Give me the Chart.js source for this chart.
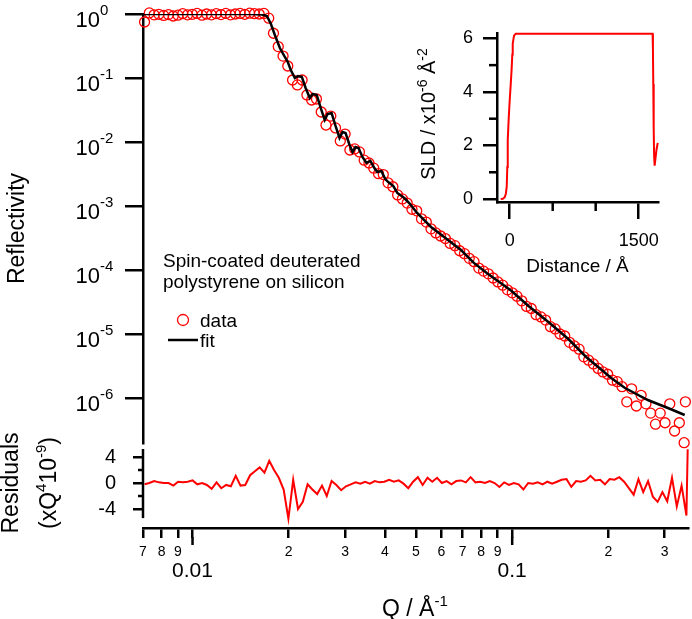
<!DOCTYPE HTML>
<html lang="en">
<head>
    <meta charset="utf-8" />
    <title>Reflectivity of spin-coated deuterated polystyrene on silicon</title>
    <script src="https://cdn.jsdelivr.net/npm/chart.js"></script>
    <style>
        body { margin: 0; background: #fff; }
        #wrap { position: relative; width: 692px; height: 619px; overflow: hidden; }
        canvas { position: absolute; }
    </style>
</head>
<body>
<div id="wrap">
    <canvas id="mainChart" width="692" height="450" style="left:0px;top:0px"></canvas>
    <canvas id="residChart" width="692" height="219" style="left:0px;top:400px"></canvas>
    <canvas id="sldChart" width="292" height="290" style="left:400px;top:0px"></canvas>
</div>
<script>
    // measured data: Q (1/Å), reflectivity and residuals (xQ^4 10^-9)
    const qData = [
        0.007079, 0.007328, 0.007586, 0.007852, 0.008128, 0.008414, 0.008710, 0.009016, 0.009333, 0.009661,
        0.01000, 0.01035, 0.01072, 0.01109, 0.01148, 0.01189, 0.01230, 0.01274, 0.01318, 0.01365,
        0.01413, 0.01462, 0.01514, 0.01567, 0.01622, 0.01679, 0.01738, 0.01799, 0.01862, 0.01928,
        0.01995, 0.02065, 0.02138, 0.02213, 0.02291, 0.02371, 0.02455, 0.02541, 0.02630, 0.02723,
        0.02818, 0.02917, 0.03020, 0.03126, 0.03236, 0.03350, 0.03467, 0.03589, 0.03715, 0.03846,
        0.03981, 0.04121, 0.04266, 0.04416, 0.04571, 0.04732, 0.04898, 0.05070, 0.05248, 0.05433,
        0.05623, 0.05821, 0.06026, 0.06237, 0.06457, 0.06683, 0.06918, 0.07161, 0.07413, 0.07674,
        0.07943, 0.08222, 0.08511, 0.08810, 0.09120, 0.09441, 0.09772, 0.1012, 0.1047, 0.1084,
        0.1122, 0.1161, 0.1202, 0.1245, 0.1288, 0.1334, 0.1380, 0.1429, 0.1479, 0.1531,
        0.1585, 0.1641, 0.1698, 0.1758, 0.1820, 0.1884, 0.1950, 0.2018, 0.2089, 0.2163,
        0.2239, 0.2317, 0.2399, 0.2483, 0.2570, 0.2661, 0.2754, 0.2851, 0.2951, 0.3055,
        0.3162, 0.3273, 0.3388, 0.3508, 0.3540
    ];
    const rData = [
        0.75, 1.04, 0.97, 0.99, 0.95, 0.98, 0.93, 0.96, 1.01, 0.97,
        0.99, 1.02, 0.96, 1.00, 0.97, 1.01, 0.98, 1.02, 0.97, 1.00,
        1.02, 0.99, 1.03, 1.01, 1.00, 1.02, 0.86, 0.50, 0.31, 0.22,
        0.154, 0.093, 0.078, 0.093, 0.0543, 0.0453, 0.047, 0.0294, 0.0184, 0.0254,
        0.0166, 0.0104, 0.0133, 0.0075, 0.0078, 0.0070, 0.0052, 0.0047, 0.0039, 0.0032,
        0.0031, 0.0023, 0.0020, 0.00149, 0.00129, 0.00111, 0.00089, 0.00084, 0.00063, 0.00056,
        0.00044, 0.00038, 0.00034, 0.00031, 0.00026, 0.00024, 0.00020, 0.00018, 0.000152, 0.000135,
        1.07e-4, 9.6e-5, 8.7e-5, 7.5e-5, 6.5e-5, 5.8e-5, 4.9e-5, 4.4e-5, 3.9e-5, 3.3e-5,
        2.7e-5, 2.5e-5, 2.0e-5, 1.85e-5, 1.65e-5, 1.3e-5, 1.2e-5, 1.0e-5, 9.3e-6, 7.4e-6,
        6.5e-6, 5.8e-6, 4.4e-6, 3.9e-6, 3.4e-6, 2.9e-6, 2.55e-6, 2.35e-6, 1.9e-6, 1.8e-6,
        1.5e-6, 8.7e-7, 1.39e-6, 7.5e-7, 1.1e-6, 8.1e-7, 5.8e-7, 3.9e-7, 5.8e-7, 4.1e-7,
        8.1e-7, 3.05e-7, 4.1e-7, 2.0e-7, 8.7e-7
    ];
    const residData = [
        -0.2, 0.0, 0.3, 0.1, 0.0, 0.0, -0.4, 0.2, 0.1, 0.2,
        0.4, -0.2, 0.0, -0.3, -0.9, 0.1, -0.8, -0.3, -0.5, 1.1,
        -0.4, -0.3, 1.2, 1.8, 2.4, 1.6, 3.4, 2.0, 0.8, -1.0,
        -5.5, 0.5, -4.0, -2.9, -0.2, -1.0, -1.7, -0.4, -2.0, 0.3,
        -0.3, -1.1, -0.5, -0.2, 0.1, -0.1, 0.2, -0.1, 0.3, 0.1,
        0.2, 0.5, 0.2, 0.4, -0.1, -0.8, 0.2, 0.9, -0.3, 0.8,
        0.2, 0.8, 0.0, 0.3, -0.2, 0.3, 0.4, 0.1, 0.9, 0.1,
        0.2, 0.0, 0.3, 0.0, -0.6, 0.1, -0.3, 0.0, -0.2, -1.0,
        0.0, -0.1, 0.1, -0.2, 0.2, -0.1, 0.2, 0.5, 0.6, -0.6,
        0.3, 0.2, 0.4, 1.1, 0.4, 0.5, -0.2, 0.6, 0.5, 0.9,
        0.2, -0.8, -1.8, 0.6, -1.4, 0.3, -2.1, -2.9, -1.4, -2.8,
        0.8, -3.6, -0.4, -5.0, 5.2
    ];

    // model fit
    const qFit = [
        0.00703, 0.01059, 0.01518, 0.01655, 0.01715, 0.01766, 0.01817, 0.01884, 0.01953, 0.01995,
        0.02039, 0.02099, 0.02144, 0.02208, 0.02270, 0.02339, 0.02390, 0.02460, 0.02531, 0.02606,
        0.02661, 0.02738, 0.02818, 0.02901, 0.02965, 0.03030, 0.03119, 0.03187, 0.03256, 0.03327,
        0.03424, 0.03524, 0.03626, 0.03732, 0.03813, 0.03924, 0.04038, 0.04126, 0.04281, 0.04406,
        0.04634, 0.04802, 0.05084, 0.05623, 0.06180, 0.06984, 0.07664, 0.08414, 0.09305, 0.1007,
        0.1138, 0.1314, 0.1518, 0.1727, 0.1884, 0.207, 0.2287, 0.2698, 0.312, 0.3522
    ];
    const rFit = [
        1.0, 1.0, 1.0, 0.982, 0.931, 0.698, 0.470, 0.294, 0.213, 0.178,
        0.133, 0.100, 0.107, 0.104, 0.0698, 0.0487, 0.0562, 0.0543, 0.0340, 0.0221,
        0.0274, 0.0284, 0.0178, 0.01155, 0.01433, 0.01383, 0.00898, 0.00698, 0.00835, 0.00806,
        0.00583, 0.00470, 0.00505, 0.00392, 0.00340, 0.00352, 0.00264, 0.00237, 0.00205, 0.00160,
        0.00133, 0.00111, 0.000778, 0.000470, 0.000328, 0.000205, 0.000129, 8.98e-5, 6.26e-5, 4.70e-5,
        2.74e-5, 1.54e-5, 8.35e-6, 4.37e-6, 3.05e-6, 2.05e-6, 1.43e-6, 9.3e-7, 6.98e-7, 5.42e-7
    ];

    // SLD profile (inset)
    const sldDistance = [-105, -80, -58, -45, -35, -28, -23, -12, 0, 12, 23, 30, 35, 50, 70,
        1662, 1666, 1670, 1675, 1680, 1686, 1695, 1708, 1722];
    const sldValue = [0, 0.01, 0.07, 0.2, 0.45, 1.2, 2.2, 3.0, 3.7, 4.3, 4.9, 5.4, 5.8, 6.1, 6.17,
        6.17, 5.6, 4.3, 2.6, 1.6, 1.25, 1.5, 1.85, 2.1];

    // axes
    const yMainTicks = [1, 0.1, 0.01, 1e-3, 1e-4, 1e-5, 1e-6];
    const yMainExp = ['0', '-1', '-2', '-3', '-4', '-5', '-6'];
    const xTickValues = [0.007, 0.008, 0.009, 0.01, 0.02, 0.03, 0.04, 0.05, 0.06, 0.07, 0.08, 0.09, 0.1, 0.2, 0.3];
    const xTickLabels = ['7', '8', '9', ['', '0.01'], '2', '3', '4', '5', '6', '7', '8', '9', ['', '0.1'], '2', '3'];
    const xMajorTicks = [0.01, 0.1];
    const residTicks = [4, 0, -4];
    const residMinor = [2, -2];
    const sldTicksY = [0, 2, 4, 6];
    const sldMinorY = [1, 3, 5];
    const sldTicksX = [0, 1500];
    const sldMinorX = [500, 1000];

    const Q_MIN = 0.007, Q_MAX = 0.3548;
    const FONT = '"Liberation Sans", Arial, Helvetica, sans-serif';
    Chart.defaults.font.family = FONT;
    Chart.defaults.color = '#000';

    function axisStyle(tickLen) {
        return {
            grid: { drawOnChartArea: false, drawTicks: true, tickLength: tickLen, color: '#000', lineWidth: 2.5 },
            border: { display: true, color: '#000', width: 2.5 }
        };
    }

    // text with superscripts, (x, y) = baseline centre (or start if align left)
    function richText(ctx, parts, x, y, size, rotate, align, supScale) {
        const supSize = Math.round(size * (supScale || 0.65));
        ctx.save();
        ctx.translate(x, y);
        if (rotate) ctx.rotate(-Math.PI / 2);
        ctx.fillStyle = '#000';
        ctx.textAlign = 'left';
        ctx.textBaseline = 'alphabetic';
        let w = 0;
        parts.forEach(p => {
            ctx.font = (p[1] ? supSize : size) + 'px ' + FONT;
            w += ctx.measureText(p[0]).width;
        });
        let cx = align === 'left' ? 0 : -w / 2;
        parts.forEach(p => {
            ctx.font = (p[1] ? supSize : size) + 'px ' + FONT;
            ctx.fillText(p[0], cx, p[1] ? -size * 0.42 : 0);
            cx += ctx.measureText(p[0]).width;
        });
        ctx.restore();
    }

    function tickMarks(ctx, scale, values, from, to) {
        ctx.save();
        ctx.strokeStyle = '#000';
        ctx.lineWidth = 2.5;
        values.forEach(v => {
            const p = scale.getPixelForValue(v);
            ctx.beginPath();
            if (scale.isHorizontal()) {
                ctx.moveTo(p, scale.top + from);
                ctx.lineTo(p, scale.top + to);
            } else {
                ctx.moveTo(scale.right - from, p);
                ctx.lineTo(scale.right - to, p);
            }
            ctx.stroke();
        });
        ctx.restore();
    }

    const dataPts = qData.map((q, i) => ({ x: q, y: rData[i] }));
    const fitPts = qFit.map((q, i) => ({ x: q, y: rFit[i] }));
    const residPts = qData.map((q, i) => ({ x: q, y: residData[i] }));
    const sldPts = sldDistance.map((z, i) => ({ x: z, y: sldValue[i] }));

    // main reflectivity plot
    new Chart(document.getElementById('mainChart'), {
        type: 'line',
        data: {
            datasets: [
                { label: 'fit', data: fitPts, borderColor: '#000', borderWidth: 2.5, pointRadius: 0, tension: 0, fill: false },
                { label: 'data', data: dataPts, showLine: false, pointRadius: 5, pointBorderWidth: 1.3,
                  pointBorderColor: '#ff0000', pointBackgroundColor: 'rgba(0,0,0,0)', clip: false }
            ]
        },
        options: {
            responsive: false,
            animation: false,
            layout: { padding: { left: 0, top: 14, right: 4, bottom: 7 } },
            plugins: { legend: { display: false }, tooltip: { enabled: false } },
            scales: {
                x: { type: 'logarithmic', min: Q_MIN, max: Q_MAX, bounds: 'data', display: false },
                y: {
                    type: 'logarithmic', min: 1.98e-7, max: 1, bounds: 'data',
                    afterBuildTicks: s => { s.ticks = yMainTicks.map(v => ({ value: v })); },
                    afterFit: s => { s.width = 143; },
                    ticks: { display: false },
                    title: { display: true, text: 'Reflectivity', font: { size: 23 }, padding: { top: 4, bottom: 0 } },
                    ...axisStyle(18)
                }
            }
        },
        plugins: [{
            id: 'mainDeco',
            afterDraw(chart) {
                const ctx = chart.ctx;
                const y = chart.scales.y;
                ctx.save();
                ctx.fillStyle = '#000';
                yMainTicks.forEach((v, i) => {
                    const p = y.getPixelForValue(v);
                    ctx.font = '22px ' + FONT;
                    ctx.textAlign = 'right';
                    ctx.fillText('10', 100, p + 13);
                    ctx.font = '15px ' + FONT;
                    ctx.textAlign = 'left';
                    ctx.fillText(yMainExp[i], 100, p + 1);
                });
                // annotation + legend
                ctx.font = '19px ' + FONT;
                ctx.textAlign = 'left';
                ctx.fillText('Spin-coated deuterated', 163, 267);
                ctx.fillText('polystyrene on silicon', 163, 288);
                ctx.fillText('data', 200, 327);
                ctx.fillText('fit', 200, 347);
                ctx.strokeStyle = '#ff0000';
                ctx.lineWidth = 1.3;
                ctx.beginPath();
                ctx.arc(183, 320, 5.5, 0, Math.PI * 2);
                ctx.stroke();
                ctx.strokeStyle = '#000';
                ctx.lineWidth = 2.5;
                ctx.beginPath();
                ctx.moveTo(168, 340);
                ctx.lineTo(198, 340);
                ctx.stroke();
                ctx.restore();
            }
        }]
    });

    // residuals panel with the shared Q axis
    new Chart(document.getElementById('residChart'), {
        type: 'line',
        data: {
            datasets: [
                { label: 'residuals', data: residPts, borderColor: '#ff0000', borderWidth: 2, pointRadius: 0, tension: 0, fill: false, clip: false }
            ]
        },
        options: {
            responsive: false,
            animation: false,
            layout: { padding: { left: 0, top: 49, right: 4, bottom: 0 } },
            plugins: { legend: { display: false }, tooltip: { enabled: false } },
            scales: {
                x: {
                    type: 'logarithmic', min: Q_MIN, max: Q_MAX, bounds: 'data',
                    afterBuildTicks: s => { s.ticks = xTickValues.map(v => ({ value: v })); },
                    afterFit: s => { s.height = 91; },
                    ticks: {
                        autoSkip: false, maxRotation: 0, minRotation: 0, padding: 6,
                        callback: (v, i) => xTickLabels[i],
                        font: c => Array.isArray(xTickLabels[c.index]) ? { size: 21, lineHeight: 0.85 } : { size: 14 }
                    },
                    ...axisStyle(10)
                },
                y: {
                    min: -6.92, max: 5.23, bounds: 'data',
                    afterBuildTicks: s => { s.ticks = residTicks.map(v => ({ value: v })); },
                    afterFit: s => { s.width = 143; },
                    ticks: { padding: 17, font: { size: 20 } },
                    grid: { drawOnChartArea: false, drawTicks: true, tickLength: 10, color: '#000', lineWidth: 2.5 },
                    border: { display: false }
                }
            }
        },
        plugins: [{
            id: 'residDeco',
            afterDraw(chart) {
                const ctx = chart.ctx;
                const x = chart.scales.x, y = chart.scales.y;
                // left axis line stops above the Q axis
                ctx.save();
                ctx.strokeStyle = '#000';
                ctx.lineWidth = 2.5;
                ctx.beginPath();
                ctx.moveTo(y.right, y.getPixelForValue(5.23));
                ctx.lineTo(y.right, y.getPixelForValue(-5.4));
                ctx.stroke();
                ctx.restore();
                tickMarks(ctx, y, residMinor, 0, 5);
                tickMarks(ctx, x, xMajorTicks, 9, 17);
                richText(ctx, [['Residuals', 0]], 18, 83, 23, true);
                richText(ctx, [['(xQ', 0], ['4', 1], ['10', 0], ['-9', 1], [')', 0]], 56, 83, 23, true);
                richText(ctx, [['Q / Å', 0], ['-1', 1]], 382, 216, 23, false, 'left');
            }
        }]
    });

    // inset: SLD profile
    new Chart(document.getElementById('sldChart'), {
        type: 'line',
        data: {
            datasets: [
                { label: 'SLD', data: sldPts, borderColor: '#ff0000', borderWidth: 2, pointRadius: 0, tension: 0, fill: false, clip: false }
            ]
        },
        options: {
            responsive: false,
            animation: false,
            layout: { padding: { left: 0, top: 33, right: 34, bottom: 0 } },
            plugins: { legend: { display: false }, tooltip: { enabled: false } },
            scales: {
                x: {
                    type: 'linear', min: -148, max: 1725, bounds: 'data',
                    afterBuildTicks: s => { s.ticks = sldTicksX.map(v => ({ value: v })); },
                    afterFit: s => { s.height = 88; },
                    ticks: { autoSkip: false, maxRotation: 0, padding: 11, font: { size: 18 }, callback: v => String(v) },
                    title: { display: true, text: 'Distance / Å', font: { size: 19 }, padding: { top: 0, bottom: 12 } },
                    ...axisStyle(17)
                },
                y: {
                    min: -0.11, max: 6.2, bounds: 'data',
                    afterBuildTicks: s => { s.ticks = sldTicksY.map(v => ({ value: v })); },
                    afterFit: s => { s.width = 97; },
                    ticks: { padding: 10, font: { size: 18 } },
                    ...axisStyle(14)
                }
            }
        },
        plugins: [{
            id: 'sldDeco',
            afterDraw(chart) {
                const ctx = chart.ctx;
                tickMarks(ctx, chart.scales.y, sldMinorY, 0, 8);
                tickMarks(ctx, chart.scales.x, sldMinorX, 0, 9);
                richText(ctx, [['SLD / x10', 0], ['-6', 1], [' Å', 0], ['-2', 1]], 35, 114, 20, true, 'center', 0.7);
            }
        }]
    });
</script>
</body>
</html>
